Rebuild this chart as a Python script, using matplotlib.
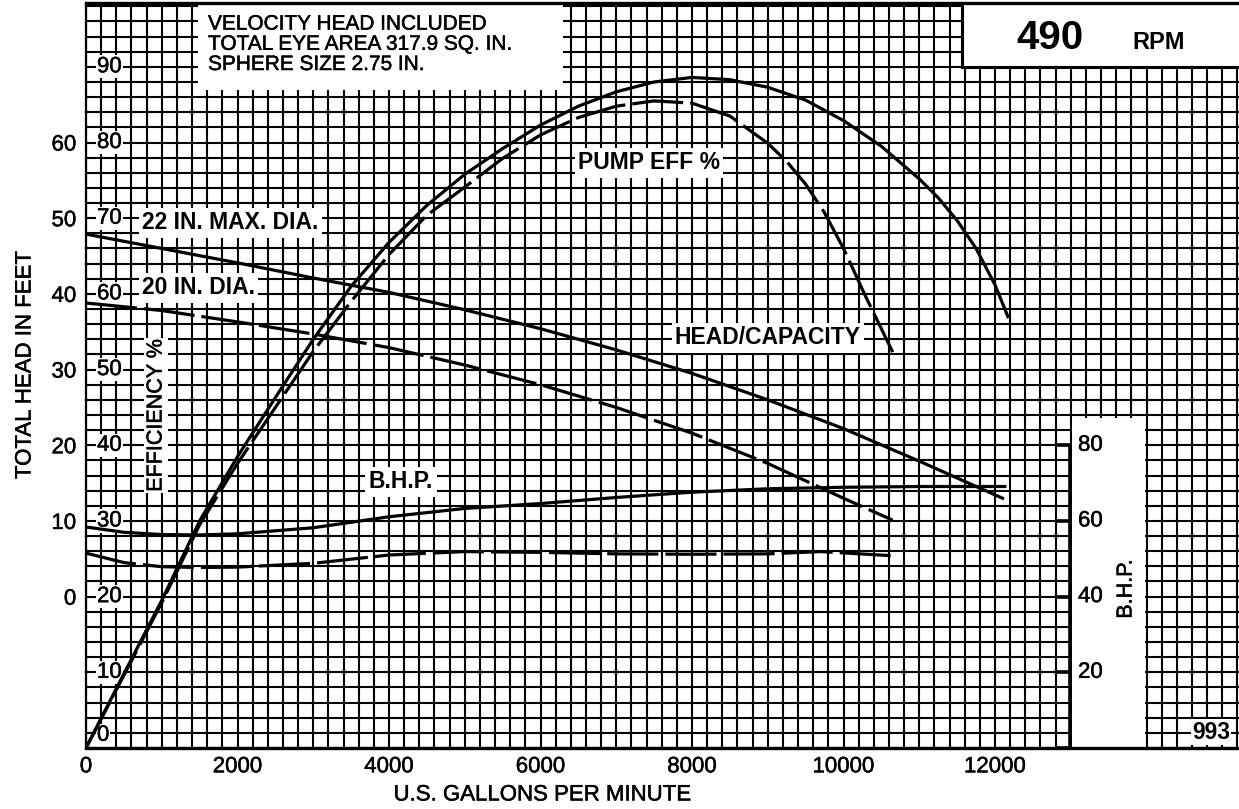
import numpy as np
import matplotlib
matplotlib.use("Agg")
import matplotlib.pyplot as plt
from matplotlib.patches import Rectangle
import matplotlib.patheffects as pe

plt.rcParams['font.family'] = ['Liberation Sans', 'DejaVu Sans']

# ---- data ----
# head/capacity, 22 in. max dia (feet)
q_head22 = [0, 1000, 2000, 3000, 4000, 5000, 6000, 7000, 8000, 9000, 10000, 11000, 12100]
head22 = [47.9, 46.0, 44.1, 42.1, 40.2, 37.9, 35.4, 32.6, 29.5, 26.0, 22.2, 17.9, 13.0]
# head/capacity, 20 in. dia (feet)
q_head20 = [0, 1000, 2000, 3000, 4000, 5000, 6000, 7000, 8000, 9000, 10000, 10650]
head20 = [38.8, 37.8, 36.3, 34.7, 32.9, 30.6, 28.0, 25.0, 21.6, 17.6, 13.0, 10.1]

# pump efficiency %
q_eff22 = [0, 500, 1000, 1500, 2000, 2500, 3000, 3500, 4000, 4500, 5000, 5500, 6000,
           6500, 7000, 7500, 8000, 8500, 9000, 9500, 10000, 10500, 11000, 11250, 11500,
           11750, 12000, 12170]
eff22 = [0, 9.8, 19.5, 30.0, 38.5, 46.3, 54.0, 61.0, 66.8, 71.7, 75.8, 79.2, 82.3,
         84.8, 86.7, 88.0, 88.6, 88.3, 87.3, 85.6, 82.9, 79.5, 75.2, 72.7, 69.7,
         66.0, 61.2, 57.0]
q_eff20 = [0, 500, 1000, 1500, 2000, 2500, 3000, 3500, 4000, 4500, 5000, 5500, 6000,
           6500, 7000, 7500, 8000, 8500, 9000, 9250, 9500, 9750, 10000, 10300, 10650]
eff20 = [0, 9.6, 19.2, 29.5, 37.6, 45.0, 52.4, 59.0, 65.2, 70.4, 74.1, 77.9, 81.0,
         83.3, 84.8, 85.5, 85.2, 83.5, 79.9, 77.5, 74.5, 70.7, 66.0, 59.5, 52.3]

# brake horsepower
q_bhp22 = [0, 500, 1000, 1500, 2000, 3000, 4000, 5000, 6000, 7000, 8000, 9000, 10000, 11000, 12130]
bhp22 = [58.4, 57.0, 56.4, 56.3, 56.6, 58.2, 61.1, 63.3, 64.6, 66.2, 67.6, 68.5, 68.9, 69.1, 69.1]
q_bhp20 = [0, 500, 1000, 1500, 2000, 3000, 4000, 5000, 6000, 7000, 8000, 9000, 9700, 10650]
bhp20 = [51.5, 49.0, 47.9, 47.7, 47.8, 48.8, 51.0, 51.9, 51.7, 51.3, 51.2, 51.3, 51.9, 50.8]

head_ticks = [0, 10, 20, 30, 40, 50, 60]
eff_ticks = [0, 10, 20, 30, 40, 50, 60, 70, 80, 90]
bhp_ticks = [0, 20, 40, 60, 80]
gpm_ticks = [0, 2000, 4000, 6000, 8000, 10000, 12000]


# all three scales share one grid: head = eff - 20, bhp = 2 * eff
def head_pos(h):
    return np.asarray(h, dtype=float) + 20


def bhp_pos(b):
    return np.asarray(b, dtype=float) / 2.0


# the scanned print is a little heavier than a clean font
ink = [pe.withStroke(linewidth=0.35, foreground='black')]

fig = plt.figure(figsize=(12.39, 8.09), dpi=100)
ax = fig.add_axes([86 / 1239, 61 / 809, 1153 / 1239, 745.5 / 809])
x_max = 1153 / 0.07575
ax.set_xlim(0, x_max)
ax.set_ylim(0, 98.5)

# graph-paper grid
ax.set_xticks(gpm_ticks)
ax.set_xticks(np.arange(0, x_max, 200), minor=True)
ax.set_yticks(head_pos(head_ticks))
ax.set_yticklabels([str(h) for h in head_ticks])
ax.set_yticks(np.arange(0, 99, 2), minor=True)
ax.set_axisbelow(True)
ax.grid(which='both', color='black', lw=1.5)
ax.tick_params(which='both', length=0, labelsize=16, colors='black')
ax.tick_params(axis='x', pad=6)
ax.tick_params(axis='y', pad=7)
for lab in ax.get_xticklabels() + ax.get_yticklabels():
    lab.set_path_effects(ink)
for side in ['top', 'bottom']:
    ax.spines[side].set_linewidth(2.4)
ax.spines['left'].set_linewidth(1.6)
ax.spines['right'].set_visible(False)

lw = 2.3
dash = (16, 2.2)
ax.plot(q_head22, head_pos(head22), color='black', lw=lw, zorder=3)
ax.plot(q_head20, head_pos(head20), color='black', lw=lw, dashes=dash, zorder=3)
ax.plot(q_eff22, eff22, color='black', lw=lw, zorder=3)
ax.plot(q_eff20, eff20, color='black', lw=lw, dashes=dash, zorder=3)
ax.plot(q_bhp22, bhp_pos(bhp22), color='black', lw=lw, zorder=3)
ax.plot(q_bhp20, bhp_pos(bhp20), color='black', lw=lw, dashes=dash, zorder=3)

# white panels over the grid
ax.add_patch(Rectangle((1479, 87.0), 4818, 12, fc='white', ec='none', zorder=1))
ax.add_patch(Rectangle((13017, 0), 963, 43.6, fc='white', ec='none', zorder=1))
ax.add_patch(Rectangle((11564, 90.0), x_max - 11564 + 500, 12, fc='white', ec='black',
                       lw=2.2, zorder=1.5))

ax.text(1611, 96.9, 'VELOCITY HEAD INCLUDED\nTOTAL EYE AREA 317.9 SQ. IN.\nSPHERE SIZE 2.75 IN.',
        fontsize=15, ha='left', va='top', linespacing=1.08, zorder=4, path_effects=ink)
ax.text(12726, 93.8, '490', fontsize=29, fontweight='bold', ha='center', va='center', zorder=4)
ax.text(14165, 93.2, 'RPM', fontsize=17, fontweight='bold', ha='center', va='center', zorder=4)

white = dict(fc='white', ec='none', pad=2.5)
labels = [
    (740, 69.4, '22 IN. MAX. DIA.', 'left'),
    (740, 60.8, '20 IN. DIA.', 'left'),
    (7432, 77.3, 'PUMP EFF %', 'center'),
    (9003, 54.2, 'HEAD/CAPACITY', 'center'),
    (4158, 35.2, 'B.H.P.', 'center'),
]
for x, y, s, ha in labels:
    ax.text(x, y, s, fontsize=16.5, fontweight='bold', ha=ha, va='center',
            bbox=white, zorder=4)
ax.text(924, 43.9, 'EFFICIENCY %', fontsize=15.5, rotation=90, ha='center',
        va='center', bbox=dict(fc='white', ec='none', pad=1), zorder=4, path_effects=ink)
ax.text(14851, 2.1, '993', fontsize=16.5, fontweight='bold', ha='center',
        va='center', bbox=dict(fc='white', ec='none', pad=1), zorder=4)

# efficiency scale inside the grid (curves run over it)
for e in eff_ticks:
    ax.text(145, e + (0.3 if e == 0 else 0), str(e), fontsize=16, ha='left',
            va='bottom' if e == 0 else 'center',
            bbox=dict(fc='white', ec='none', pad=0.8), zorder=2.5, path_effects=ink)

# B.H.P. scale on the right
bhp_x = 12990
ax.vlines(bhp_x, 0, bhp_pos(80), color='black', lw=2.6, zorder=3)
ax.hlines(bhp_pos(bhp_ticks), bhp_x - 200, bhp_x, color='black', lw=2.6, zorder=3)
for b in bhp_ticks[1:]:
    ax.text(13096, bhp_pos(b), str(b), fontsize=16, ha='left', va='center', zorder=4,
            path_effects=ink)
ax.text(13729, 21.0, 'B.H.P.', fontsize=15.5, rotation=90, ha='center', va='center',
        zorder=4, path_effects=ink)

ax.text(0.396, -0.063, 'U.S. GALLONS PER MINUTE', transform=ax.transAxes,
        fontsize=16, ha='center', va='center', path_effects=ink)
ax.text(-0.0529, 0.514, 'TOTAL HEAD IN FEET', transform=ax.transAxes,
        fontsize=16, rotation=90, ha='center', va='center', path_effects=ink)

fig.savefig('out.png', dpi=100)
